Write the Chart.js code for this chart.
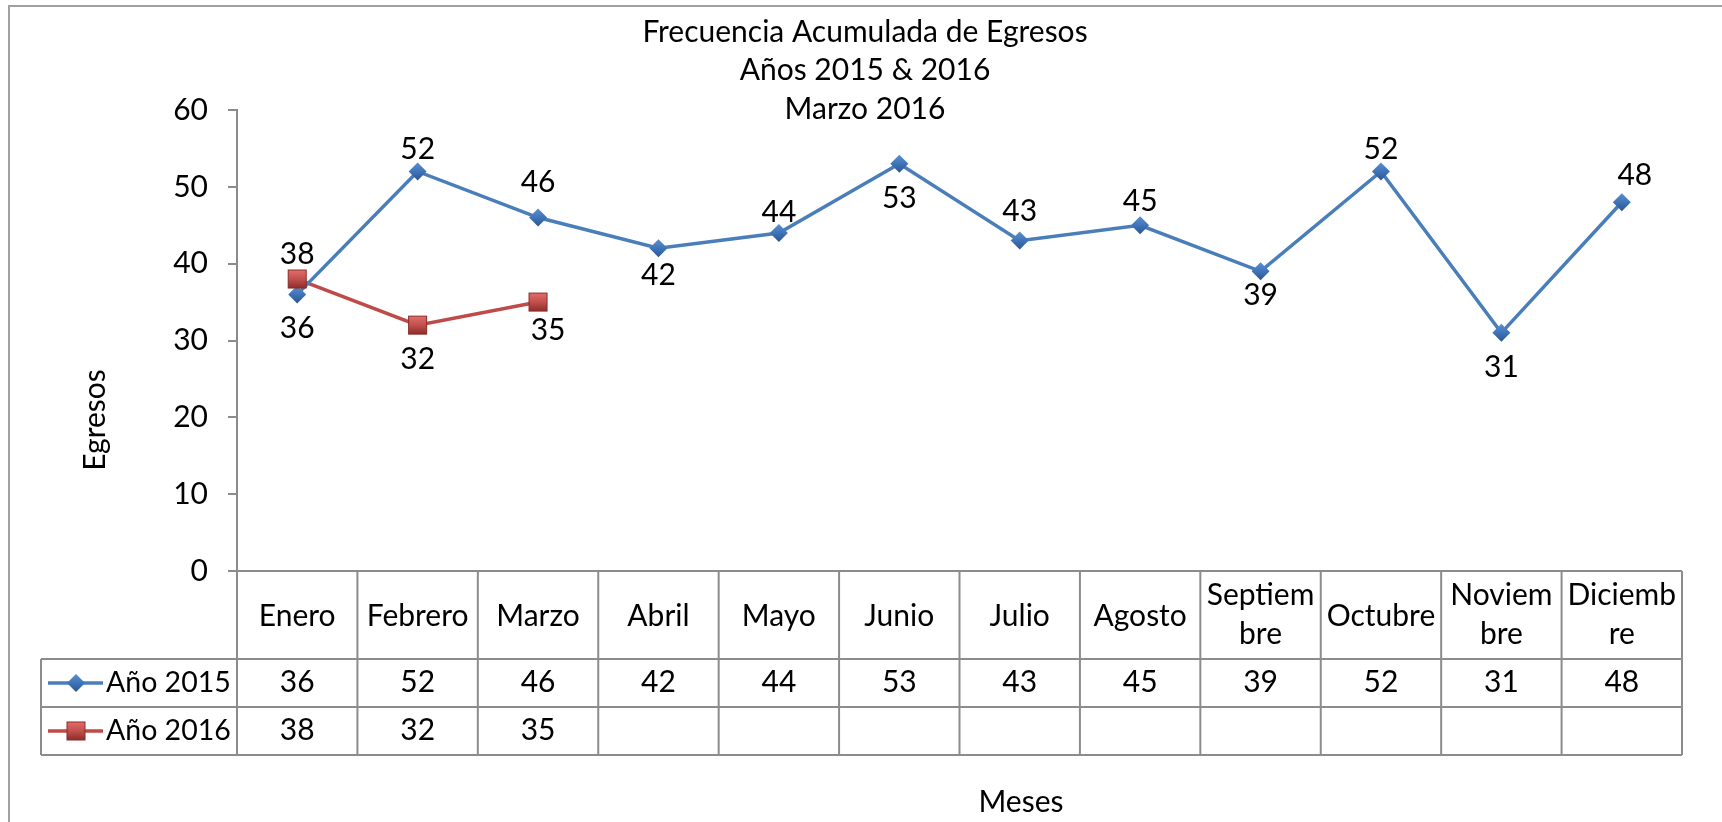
<!DOCTYPE html>
<html>
<head>
<meta charset="utf-8">
<script src="https://cdn.jsdelivr.net/npm/chart.js@4"></script>
<style>
    html, body { margin: 0; padding: 0; background: #fff; }
    #wrap { width: 1722px; height: 822px; position: relative; }
</style>
</head>
<body>
<div id="wrap"><canvas id="egresosChart"></canvas></div>
<script>
// Chart data
const months = ['Enero', 'Febrero', 'Marzo', 'Abril', 'Mayo', 'Junio', 'Julio', 'Agosto',
    ['Septiem', 'bre'], 'Octubre', ['Noviem', 'bre'], ['Diciemb', 're']];
const egresos2015 = [36, 52, 46, 42, 44, 53, 43, 45, 39, 52, 31, 48];
const egresos2016 = [38, 32, 35];
const seriesNames = ['Año 2015', 'Año 2016'];
const titleLines = ['Frecuencia Acumulada de Egresos', 'Años 2015 & 2016', 'Marzo 2016'];
const yTicks = [0, 10, 20, 30, 40, 50, 60];

// data label placement: [dx, baseline offset] from each point
const labelOffsets = [
    [[0, 44], [0, -12], [0, -26], [0, 37], [0, -11], [0, 44], [0, -20], [0, -14], [0, 34], [0, -12], [0, 44], [13, -17]],
    [[0, -15], [0, 44], [10, 38]]
];

const FONT = 'Lato, "Open Sans", sans-serif';
const FSIZE = 30;
const GRID = '#8c8c8c';
const BLUE = '#4a7ebb';
const RED = '#be4b48';

function font(size) {
    return size + 'px ' + FONT;
}

// Draw marker like Excel (diamond / square)
function drawMarker(ctx, type, x, y) {
    ctx.save();
    if (type === 0) {
        const r = 9;
        const g = ctx.createLinearGradient(x, y - r, x, y + r);
        g.addColorStop(0, '#5b8fd0');
        g.addColorStop(0.5, '#3f74b8');
        g.addColorStop(1, '#2b5590');
        ctx.fillStyle = g;
        ctx.beginPath();
        ctx.moveTo(x, y - r);
        ctx.lineTo(x + r, y);
        ctx.lineTo(x, y + r);
        ctx.lineTo(x - r, y);
        ctx.closePath();
        ctx.fill();
    } else {
        const s = 9;
        const g = ctx.createLinearGradient(x, y - s, x, y + s);
        g.addColorStop(0, '#e46c69');
        g.addColorStop(0.5, '#c0504d');
        g.addColorStop(1, '#8e2d2a');
        ctx.fillStyle = g;
        ctx.fillRect(x - s, y - s, 2 * s, 2 * s);
        ctx.strokeStyle = '#8a2b28';
        ctx.lineWidth = 1;
        ctx.strokeRect(x - s, y - s, 2 * s, 2 * s);
    }
    ctx.restore();
}

const excelDecor = {
    id: 'excelDecor',
    afterDatasetsDraw(chart) {
        const ctx = chart.ctx;
        // markers
        chart.data.datasets.forEach((ds, i) => {
            chart.getDatasetMeta(i).data.forEach(pt => drawMarker(ctx, i, pt.x, pt.y));
        });
        // data labels
        ctx.save();
        ctx.font = font(FSIZE);
        ctx.fillStyle = '#000';
        ctx.textAlign = 'center';
        ctx.textBaseline = 'alphabetic';
        chart.data.datasets.forEach((ds, i) => {
            chart.getDatasetMeta(i).data.forEach((pt, j) => {
                const off = labelOffsets[i][j];
                ctx.fillText(String(ds.data[j]), pt.x + off[0], pt.y + off[1]);
            });
        });
        ctx.restore();
    },
    afterDraw(chart) {
        const ctx = chart.ctx;
        const a = chart.chartArea;
        const x = chart.scales.x;
        const half = (x.getPixelForValue(1) - x.getPixelForValue(0)) / 2;
        const n = months.length;
        const top = a.bottom;
        const r1 = top + 88, r2 = top + 136, r3 = top + 184;
        const legendLeft = 41;

        ctx.save();
        // outer frame (top and left visible)
        ctx.strokeStyle = '#a0a0a0';
        ctx.lineWidth = 2;
        ctx.beginPath();
        ctx.moveTo(9, chart.height);
        ctx.lineTo(9, 6);
        ctx.lineTo(chart.width, 6);
        ctx.stroke();

        // data table grid
        ctx.strokeStyle = GRID;
        ctx.lineWidth = 2;
        ctx.beginPath();
        ctx.moveTo(a.left - 9, top); ctx.lineTo(a.right, top);
        ctx.moveTo(legendLeft, r1); ctx.lineTo(a.right, r1);
        ctx.moveTo(legendLeft, r2); ctx.lineTo(a.right, r2);
        ctx.moveTo(legendLeft, r3); ctx.lineTo(a.right, r3);
        ctx.moveTo(legendLeft, r1); ctx.lineTo(legendLeft, r3);
        for (let i = 0; i <= n; i++) {
            const bx = x.getPixelForValue(0) - half + i * 2 * half;
            ctx.moveTo(bx, top); ctx.lineTo(bx, r3);
        }
        ctx.stroke();

        // category headers and values
        ctx.fillStyle = '#000';
        ctx.font = font(FSIZE);
        ctx.textAlign = 'center';
        ctx.textBaseline = 'alphabetic';
        months.forEach((m, i) => {
            const cx = x.getPixelForValue(i);
            if (Array.isArray(m)) {
                ctx.fillText(m[0], cx, top + 34);
                ctx.fillText(m[1], cx, top + 73);
            } else {
                ctx.fillText(m, cx, top + 55);
            }
            if (egresos2015[i] != null) ctx.fillText(String(egresos2015[i]), cx, r1 + 33);
            if (egresos2016[i] != null) ctx.fillText(String(egresos2016[i]), cx, r2 + 33);
        });

        // legend keys in table
        ctx.font = font(28.5);
        [r1, r2].forEach((ry, i) => {
            const cy = ry + 24;
            ctx.strokeStyle = i === 0 ? BLUE : RED;
            ctx.lineWidth = 3.5;
            ctx.beginPath();
            ctx.moveTo(48, cy); ctx.lineTo(103, cy);
            ctx.stroke();
            drawMarker(ctx, i, 76, cy);
            ctx.fillStyle = '#000';
            ctx.textAlign = 'left';
            ctx.fillText(seriesNames[i], 106, ry + 33);
        });

        // title
        ctx.font = font(FSIZE);
        ctx.textAlign = 'center';
        const titleBase = [42, 80, 119];
        titleLines.forEach((t, i) => ctx.fillText(t, 865, titleBase[i]));

        // axis titles
        ctx.fillText('Meses', 1021, 812);
        ctx.save();
        ctx.translate(105, 420);
        ctx.rotate(-Math.PI / 2);
        ctx.fillText('Egresos', 0, 0);
        ctx.restore();
        ctx.restore();
    }
};

const ctx = document.getElementById('egresosChart');

new Chart(ctx, {
    type: 'line',
    data: {
        labels: months,
        datasets: [
            {
                label: seriesNames[0],
                data: egresos2015,
                borderColor: BLUE,
                borderWidth: 3.5,
                pointRadius: 0,
                tension: 0
            },
            {
                label: seriesNames[1],
                data: egresos2016,
                borderColor: RED,
                borderWidth: 3.5,
                pointRadius: 0,
                tension: 0
            }
        ]
    },
    options: {
        responsive: true,
        maintainAspectRatio: false,
        animation: false,
        layout: {
            padding: { top: 110, right: 40, bottom: 251, left: 0 }
        },
        plugins: {
            legend: { display: false },
            title: { display: false },
            tooltip: { enabled: false }
        },
        scales: {
            x: {
                display: false,
                offset: true
            },
            y: {
                min: 0,
                max: 60,
                afterFit: function(scale) {
                    scale.width = 237;
                },
                afterBuildTicks: function(scale) {
                    scale.ticks = yTicks.map(v => ({ value: v }));
                },
                grid: {
                    drawOnChartArea: false,
                    drawTicks: true,
                    tickLength: 9,
                    color: GRID,
                    lineWidth: 2
                },
                border: {
                    display: true,
                    color: GRID,
                    width: 2
                },
                ticks: {
                    padding: 20,
                    color: '#000',
                    font: { family: FONT, size: FSIZE }
                }
            }
        }
    },
    plugins: [excelDecor]
});
</script>
</body>
</html>
